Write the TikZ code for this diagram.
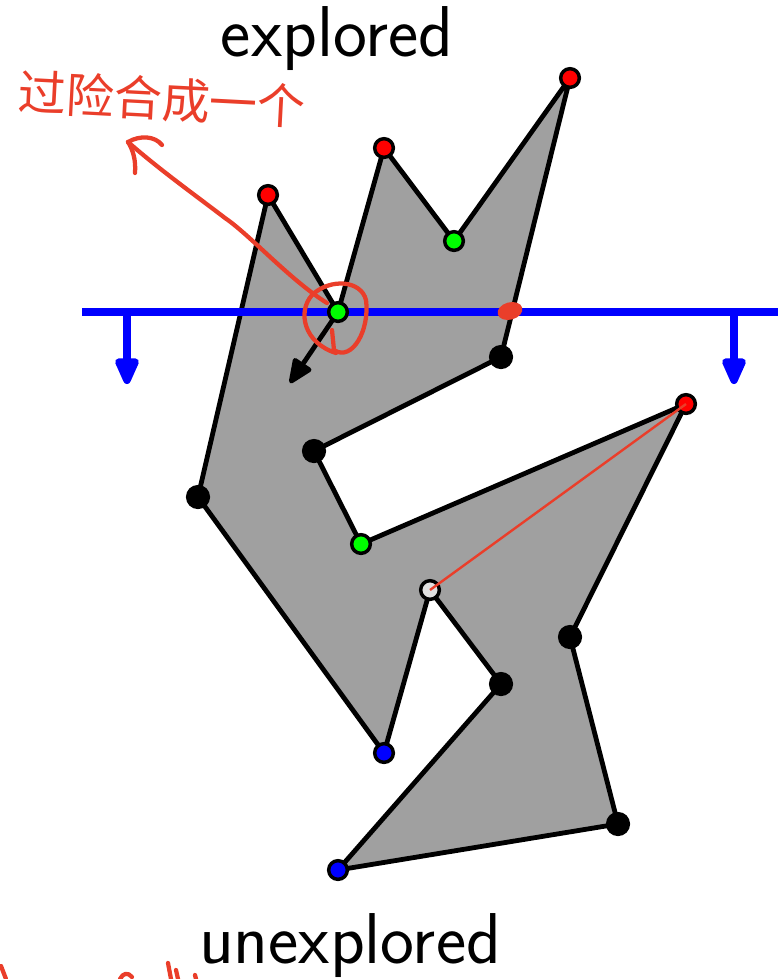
\documentclass[tikz,border=0pt]{standalone}
\usepackage{fontspec}
\newfontfamily\cjk{Noto Sans CJK SC}
\usetikzlibrary{arrows.meta,backgrounds,shapes.geometric}
\definecolor{inkred}{RGB}{234,62,42}
\definecolor{polygray}{RGB}{160,160,160}

\begin{document}
\begin{tikzpicture}[x=0.75pt,y=-0.75pt,
      vertex/.style={
        % The dot:
        circle,inner sep=0pt,minimum size=14pt,
        % The rest
        draw=black,line width=2.6pt},
      start/.style={vertex,fill=red},
      merge/.style={vertex,fill=green},
      endpt/.style={vertex,fill=blue},
      regular/.style={vertex,fill=black,minimum size=15.5pt},
      current/.style={vertex,fill=black!12},
      word/.style={font=\fontsize{54}{60}\selectfont\sffamily,inner sep=0pt},
      sweep/.style={blue,line width=5.5pt},
      ink/.style={draw=inkred,line width=3.2pt,line cap=round,line join=round}]
    \useasboundingbox (0,0) rectangle (778,979);
    \node(s1)[start] at (268,195) {};
    \node(m1)[merge] at (338,312) {};
    \node(s2)[start] at (384,148) {};
    \node(m2)[merge] at (454,241) {};
    \node(s3)[start] at (570,78) {};
    \node(r1)[regular] at (501,357) {};
    \node(r2)[regular] at (314,451) {};
    \node(m3)[merge] at (361,544) {};
    \node(s4)[start] at (686,404) {};
    \node(r3)[regular] at (570,637) {};
    \node(r4)[regular] at (618,824) {};
    \node(e1)[endpt] at (338,870) {};
    \node(r5)[regular] at (501,684) {};
    \node(cur)[current] at (430,590) {};
    \node(e2)[endpt] at (384,753) {};
    \node(r6)[regular] at (198,497) {};
    \node(top)[word, anchor=base] at (337,56) {explored};
    \node(bot)[word, anchor=base] at (350,963) {unexplored};
    \coordinate (sl) at (82,312);
    \coordinate (sr) at (778,312);
    \coordinate (dl) at (127,312);
    \coordinate (dlend) at (127,384);
    \coordinate (dr) at (734,312);
    \coordinate (drend) at (734,384);
    \coordinate (diag) at (290,383);
    \begin{scope}[on background layer]
      \draw[line width=3.6pt,line join=round,fill=polygray]
        (s1.center) -- (m1.center) -- (s2.center) -- (m2.center) -- (s3.center)
        -- (r1.center) -- (r2.center) -- (m3.center) -- (s4.center) -- (r3.center)
        -- (r4.center) -- (e1.center) -- (r5.center) -- (cur.center) -- (e2.center)
        -- (r6.center) -- cycle;
      \draw[sweep] (sl) -- (sr);
      \draw[sweep, -{Triangle[length=24pt,width=19pt,round]}] (dl) -- (dlend);
      \draw[sweep, -{Triangle[length=24pt,width=19pt,round]}] (dr) -- (drend);
      \draw[line width=3.6pt, -{Triangle[length=21pt,width=17pt,round]}] (m1.center) -- (diag);
    \end{scope}

    % notes in red on top
    \draw[inkred, line width=1.8pt] (cur.center) -- (s4.center);
    \node(blob)[ellipse, fill=inkred, minimum width=19pt, minimum height=13pt,
      inner sep=0pt, rotate=15] at (510,311) {};
    \draw[ink] (332,330) -- (334,350) .. controls (352,362) and (370,330) .. (366,300)
      .. controls (361,280) and (330,278) .. (312,295)
      .. controls (297,312) and (304,343) .. (336,353);
    \coordinate (tail) at (327,303);
    \coordinate (head) at (128,142);
    \draw[ink] (tail) .. controls (290,280) and (250,235) .. (225,218)
      .. controls (195,195) and (160,170) .. (head);
    \draw[ink] (head) .. controls (140,135) and (155,136) .. (162,145);
    \draw[ink] (head) .. controls (133,150) and (136,160) .. (135,173);
    \node(note)[text=inkred, font=\fontsize{36}{40}\selectfont\cjk, rotate=-3]
      at (162,99) {过险合成一个};
    \draw[ink] (1,966) -- (6,979);
    \draw[ink] (120,979) .. controls (123,973) and (128,972) .. (132,977);
    \draw[ink] (168,963) -- (171,979);
    \draw[ink] (176,970) -- (178,979);
    \draw[ink] (195,975) -- (196,979);
  \end{tikzpicture}
\end{document}
